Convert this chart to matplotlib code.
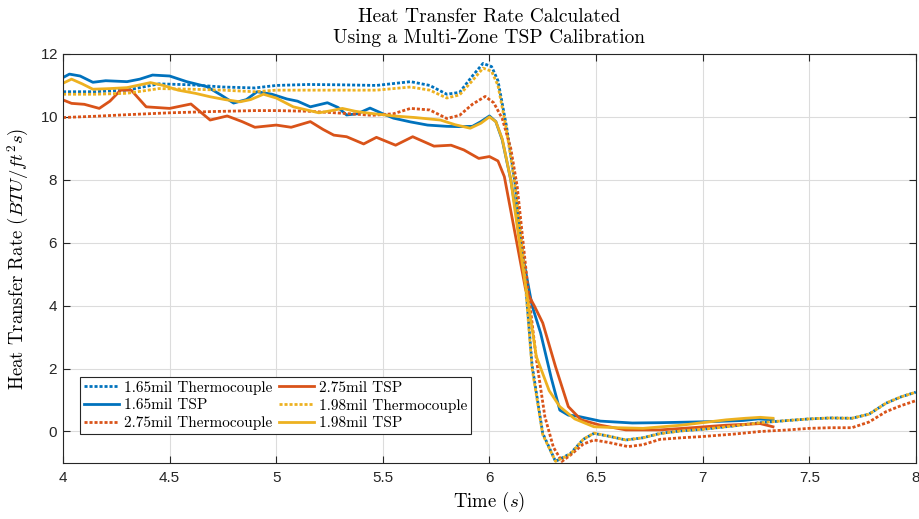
import matplotlib
matplotlib.use("Agg")
import matplotlib.pyplot as plt

plt.rcParams['mathtext.fontset'] = 'cm'
plt.rcParams['font.family'] = ['Liberation Sans', 'DejaVu Sans']
plt.rcParams['axes.formatter.use_mathtext'] = True

SERIF = 'cmr10'

# MATLAB default line colours
c_blue = '#0072BD'
c_red = '#D95319'
c_yellow = '#EDB120'

# ---- data ----
x_tc165 = [4.0, 4.15, 4.3, 4.45, 4.6, 4.75, 4.9, 5.0, 5.15, 5.3, 5.47, 5.63, 5.72, 5.8,
           5.86, 5.92, 5.97, 6.01, 6.04, 6.08, 6.12, 6.16, 6.2, 6.25, 6.31, 6.38, 6.44,
           6.49, 6.56, 6.64, 6.72, 6.8, 6.9, 7.0, 7.15, 7.27, 7.4, 7.5, 7.6, 7.7, 7.78,
           7.86, 7.93, 8.0]
y_tc165 = [10.8, 10.8, 10.85, 11.05, 11.02, 10.95, 10.92, 11.0, 11.03, 11.02, 11.0, 11.12,
           11.0, 10.72, 10.78, 11.3, 11.7, 11.6, 11.15, 9.7, 7.9, 5.5, 2.1, -0.06, -0.95,
           -0.7, -0.25, -0.06, -0.15, -0.27, -0.2, -0.06, 0.02, 0.07, 0.18, 0.28, 0.35,
           0.4, 0.43, 0.42, 0.55, 0.9, 1.1, 1.25]

x_tsp165 = [4.0, 4.03, 4.08, 4.14, 4.2, 4.3, 4.36, 4.42, 4.5, 4.58, 4.675, 4.74, 4.8,
            4.86, 4.91, 4.98, 5.05, 5.1, 5.16, 5.24, 5.29, 5.33, 5.38, 5.44, 5.5, 5.55,
            5.63, 5.71, 5.8, 5.86, 5.92, 5.96, 6.0, 6.03, 6.06, 6.1, 6.157, 6.2, 6.24,
            6.29, 6.33, 6.37, 6.41, 6.52, 6.67, 6.8, 6.95, 7.07, 7.19, 7.26, 7.33]
y_tsp165 = [11.25, 11.36, 11.3, 11.1, 11.15, 11.12, 11.2, 11.33, 11.3, 11.12, 10.96, 10.7,
            10.44, 10.55, 10.8, 10.72, 10.57, 10.5, 10.32, 10.45, 10.3, 10.06, 10.1, 10.28,
            10.1, 9.96, 9.84, 9.74, 9.7, 9.69, 9.7, 9.85, 10.03, 9.85, 9.27, 8.0, 5.56,
            4.0, 3.13, 1.7, 0.68, 0.52, 0.49, 0.33, 0.27, 0.28, 0.3, 0.32, 0.35, 0.4, 0.37]

x_tc275 = [4.0, 4.15, 4.3, 4.5, 4.7, 4.9, 5.0, 5.15, 5.3, 5.45, 5.55, 5.63, 5.72, 5.8,
           5.86, 5.92, 5.98, 6.02, 6.06, 6.1, 6.13, 6.18, 6.22, 6.26, 6.3, 6.34, 6.38,
           6.44, 6.49, 6.56, 6.65, 6.72, 6.8, 6.9, 7.0, 7.15, 7.27, 7.4, 7.5, 7.6, 7.7,
           7.78, 7.86, 7.93, 8.0]
y_tc275 = [9.98, 10.02, 10.07, 10.13, 10.17, 10.2, 10.2, 10.18, 10.12, 10.05, 10.1, 10.27,
           10.22, 9.95, 10.05, 10.4, 10.65, 10.45, 9.95, 9.0, 7.8, 4.6, 2.3, 0.47, -0.5,
           -0.95, -0.75, -0.4, -0.27, -0.35, -0.48, -0.42, -0.25, -0.2, -0.16, -0.08, 0.0,
           0.05, 0.1, 0.12, 0.12, 0.3, 0.63, 0.82, 0.98]

x_tsp275 = [4.0, 4.04, 4.1, 4.17, 4.22, 4.27, 4.32, 4.39, 4.5, 4.6, 4.69, 4.77, 4.84, 4.9,
            5.0, 5.07, 5.16, 5.22, 5.27, 5.33, 5.41, 5.47, 5.56, 5.64, 5.74, 5.82, 5.88,
            5.95, 6.0, 6.04, 6.07, 6.12, 6.17, 6.21, 6.25, 6.31, 6.37, 6.43, 6.52, 6.64,
            6.8, 6.95, 7.11, 7.27, 7.33]
y_tsp275 = [10.54, 10.43, 10.4, 10.27, 10.5, 10.85, 10.85, 10.32, 10.27, 10.41, 9.9, 10.03,
            9.85, 9.67, 9.74, 9.67, 9.85, 9.6, 9.42, 9.37, 9.14, 9.35, 9.1, 9.37, 9.07, 9.1,
            8.95, 8.68, 8.74, 8.6, 8.1, 6.3, 4.5, 4.0, 3.45, 2.06, 0.79, 0.37, 0.2, 0.05,
            0.05, 0.12, 0.2, 0.25, 0.15]

x_tc198 = x_tc165
y_tc198 = [10.72, 10.72, 10.75, 10.9, 10.88, 10.85, 10.8, 10.85, 10.85, 10.85, 10.85, 10.95,
           10.85, 10.6, 10.7, 11.15, 11.55, 11.45, 11.0, 9.6, 7.8, 5.4, 2.0, -0.1, -0.95,
           -0.72, -0.25, -0.05, -0.15, -0.27, -0.2, -0.07, 0.02, 0.07, 0.18, 0.28, 0.35,
           0.4, 0.43, 0.42, 0.55, 0.9, 1.1, 1.25]

x_tsp198 = [4.0, 4.04, 4.09, 4.14, 4.22, 4.3, 4.41, 4.47, 4.54, 4.62, 4.69, 4.76, 4.83,
            4.88, 4.94, 5.0, 5.08, 5.2, 5.26, 5.31, 5.37, 5.42, 5.55, 5.65, 5.77, 5.84,
            5.91, 5.96, 6.0, 6.03, 6.06, 6.1, 6.157, 6.22, 6.28, 6.33, 6.4, 6.49, 6.6,
            6.72, 6.9, 7.11, 7.2, 7.27, 7.33]
y_tsp198 = [11.07, 11.2, 11.05, 10.88, 10.9, 10.93, 11.09, 11.0, 10.85, 10.75, 10.64, 10.55,
            10.48, 10.55, 10.72, 10.6, 10.32, 10.13, 10.2, 10.27, 10.18, 10.13, 10.03, 9.98,
            9.9, 9.75, 9.64, 9.8, 10.0, 9.85, 9.3, 8.0, 5.2, 2.38, 1.3, 0.79, 0.4, 0.15,
            0.12, 0.1, 0.2, 0.37, 0.42, 0.45, 0.42]

x_ticks = [4, 4.5, 5, 5.5, 6, 6.5, 7, 7.5, 8]
x_ticklabels = ['4', '4.5', '5', '5.5', '6', '6.5', '7', '7.5', '8']
y_ticks = [0, 2, 4, 6, 8, 10, 12]

fig = plt.figure(figsize=(9.2, 5.19), dpi=100)
ax = fig.add_axes([0.0685, 0.108, 0.927, 0.788])

dot = (0, (1.1, 0.7))
lw = 2.0
ax.plot(x_tc165, y_tc165, color=c_blue, ls=dot, lw=lw, label='1.65mil Thermocouple')
ax.plot(x_tsp165, y_tsp165, color=c_blue, ls='-', lw=lw, label='1.65mil TSP')
ax.plot(x_tc275, y_tc275, color=c_red, ls=dot, lw=lw, label='2.75mil Thermocouple')
ax.plot(x_tsp275, y_tsp275, color=c_red, ls='-', lw=lw, label='2.75mil TSP')
ax.plot(x_tc198, y_tc198, color=c_yellow, ls=dot, lw=lw, label='1.98mil Thermocouple')
ax.plot(x_tsp198, y_tsp198, color=c_yellow, ls='-', lw=lw, label='1.98mil TSP')

ax.set_xlim(4, 8)
ax.set_ylim(-1, 12)
ax.set_xticks(x_ticks)
ax.set_xticklabels(x_ticklabels)
ax.set_yticks(y_ticks)

ax.grid(True, color='#dcdcdc', lw=0.8)
ax.set_axisbelow(True)
for s in ax.spines.values():
    s.set_color('#262626')
    s.set_linewidth(0.8)
ax.tick_params(direction='in', length=5, width=0.8, colors='#262626',
               labelsize=11, top=True, right=True)
ax.tick_params(axis='x', pad=6)

ax.set_title('Heat Transfer Rate Calculated\nUsing a Multi-Zone TSP Calibration',
             family=SERIF, fontsize=14, pad=8, linespacing=1.2)
ax.set_xlabel('Time $(s)$', family=SERIF, fontsize=13.5, labelpad=3)
ax.set_ylabel('Heat Transfer Rate $(BTU/ft^2s)$', family=SERIF, fontsize=13.5, labelpad=6)

leg = ax.legend(ncol=2, loc='lower left', bbox_to_anchor=(0.02, 0.071),
                borderaxespad=0, prop={'family': SERIF, 'size': 11},
                fancybox=False, edgecolor='#262626', framealpha=1,
                handlelength=2.3, handletextpad=0.3, columnspacing=0.45,
                labelspacing=0.25, borderpad=0.25)
leg.get_frame().set_linewidth(0.8)

fig.savefig('out.png', dpi=100)
